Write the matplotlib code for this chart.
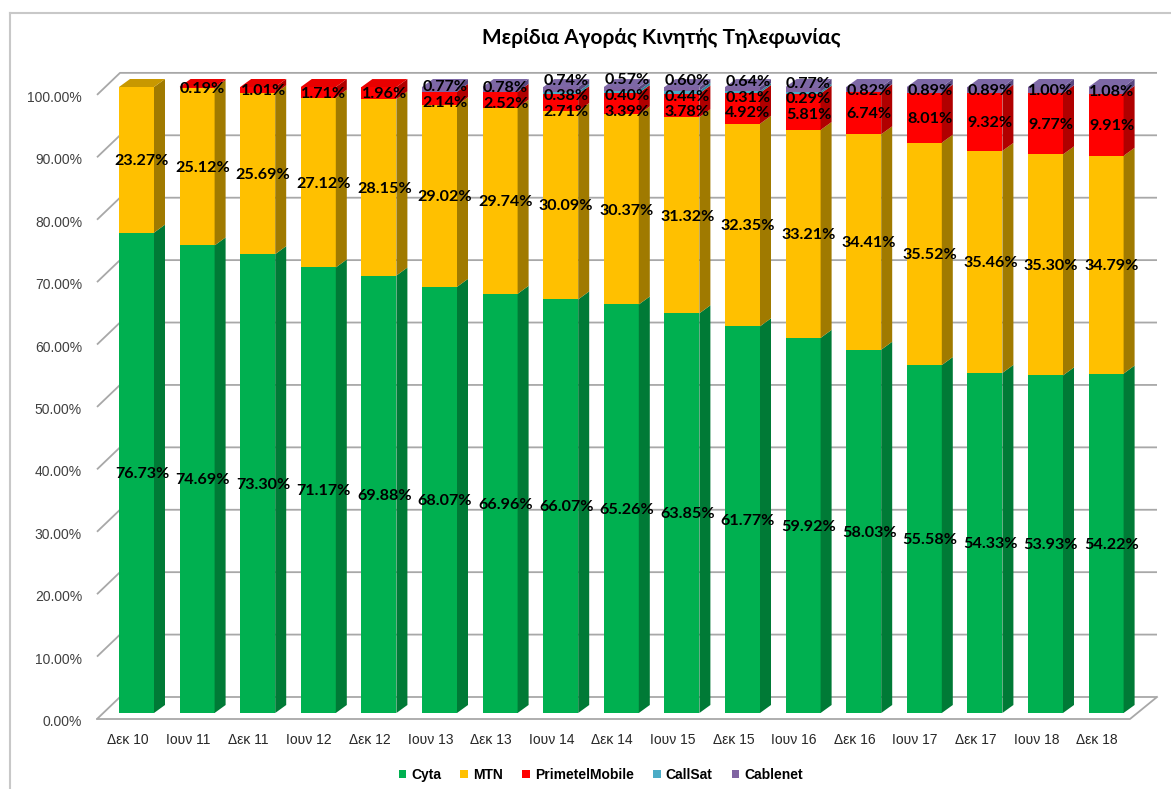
import matplotlib
matplotlib.use('Agg')
import matplotlib.pyplot as plt
from matplotlib.patches import Polygon, Rectangle
from matplotlib.lines import Line2D
import numpy as np

# ---------------- data ----------------
categories = ['Δεκ 10', 'Ιουν 11', 'Δεκ 11', 'Ιουν 12', 'Δεκ 12', 'Ιουν 13', 'Δεκ 13',
              'Ιουν 14', 'Δεκ 14', 'Ιουν 15', 'Δεκ 15', 'Ιουν 16', 'Δεκ 16', 'Ιουν 17',
              'Δεκ 17', 'Ιουν 18', 'Δεκ 18']
cyta = [76.73, 74.69, 73.30, 71.17, 69.88, 68.07, 66.96, 66.07, 65.26, 63.85, 61.77,
        59.92, 58.03, 55.58, 54.33, 53.93, 54.22]
mtn = [23.27, 25.12, 25.69, 27.12, 28.15, 29.02, 29.74, 30.09, 30.37, 31.32, 32.35,
       33.21, 34.41, 35.52, 35.46, 35.30, 34.79]
primetel = [0.00, 0.19, 1.01, 1.71, 1.96, 2.14, 2.52, 2.71, 3.39, 3.78, 4.92,
            5.81, 6.74, 8.01, 9.32, 9.77, 9.91]
callsat = [0.00, 0.00, 0.00, 0.00, 0.00, 0.00, 0.00, 0.38, 0.40, 0.44, 0.31,
           0.29, 0.00, 0.00, 0.00, 0.00, 0.00]
cablenet = [0.00, 0.00, 0.00, 0.00, 0.00, 0.77, 0.78, 0.74, 0.57, 0.60, 0.64,
            0.77, 0.82, 0.89, 0.89, 1.00, 1.08]
series_names = ['Cyta', 'MTN', 'PrimetelMobile', 'CallSat', 'Cablenet']
y_ticks = [0, 10, 20, 30, 40, 50, 60, 70, 80, 90, 100]
title = 'Μερίδια Αγοράς Κινητής Τηλεφωνίας'

# ---------------- styles ----------------
front_colors = ['#00B050', '#FFC000', '#FF0000', '#4BACC6', '#8064A2']
side_colors = ['#007A36', '#A07A00', '#B00000', '#31859C', '#5A4780']
top_colors = ['#00A04A', '#C89800', '#E80000', '#42A0B8', '#7D68A6']

W, H = 1171, 789
fig = plt.figure(figsize=(W / 100, H / 100), dpi=100)
ax = fig.add_axes([0, 0, 1, 1])

# pixel <-> data mapping for a flat, pseudo-3D drawing
X0, XS = 136.5, 60.6      # pixel of category 0, pixels per category
Y0, YS = 713.0, 6.26      # pixel of 0 %, pixels per percent
ax.set_xlim((0 - X0) / XS, (W - X0) / XS)
ax.set_ylim((Y0 - H) / YS, Y0 / YS)
ax.axis('off')

def px(p):
    return (p - X0) / XS

def py(p):
    return (Y0 - p) / YS

grid_c = '#A8A8A8'
# gridlines on back wall with slanted left ticks
for v in y_ticks:
    back = py(697) + v * 0.997
    front = py(719) + v * 0.997
    ax.plot([px(97), px(120), px(1157)], [front, back, back], color=grid_c, lw=1.3,
            zorder=1, solid_capstyle='butt')
    ax.text(px(82), front - 0.5, f'{v:.2f}%', ha='right', va='center', fontsize=10,
            color='#404040', family='Liberation Sans')
# floor outline
f0 = py(719)
b0 = py(697)
ax.plot([px(97), px(1130), px(1157)], [f0, f0, b0], color=grid_c, lw=1.3, zorder=1)

# bars
series = [cyta, mtn, primetel, callsat, cablenet]
n = len(categories)
xs = np.arange(n)
bw = 35 / XS
dx = 11 / XS
dy = 8 / YS
bottoms = np.zeros(n)
for s_idx, vals in enumerate(series):
    vals = np.array(vals)
    ax.bar(xs, vals, width=bw, bottom=bottoms, color=front_colors[s_idx],
           edgecolor='none', zorder=3, label=series_names[s_idx])
    for i in range(n):
        if vals[i] <= 0:
            continue
        xr = xs[i] + bw / 2
        b = bottoms[i]
        t = b + vals[i]
        ax.add_patch(Polygon([(xr, b), (xr + dx, b + dy), (xr + dx, t + dy), (xr, t)],
                             closed=True, facecolor=side_colors[s_idx],
                             edgecolor='none', zorder=3))
    bottoms = bottoms + vals

# top faces of the top-most segment
top_series = [-1] * n
for s_idx, vals in enumerate(series):
    for i in range(n):
        if vals[i] > 0:
            top_series[i] = s_idx
for i in range(n):
    t = bottoms[i]
    xl = xs[i] - bw / 2
    xr = xs[i] + bw / 2
    ax.add_patch(Polygon([(xl, t), (xr, t), (xr + dx, t + dy), (xl + dx, t + dy)],
                         closed=True, facecolor=top_colors[top_series[i]],
                         edgecolor='none', zorder=3))

# data labels with simple overlap spreading
def spread(centers, gap):
    clusters = [[c] for c in centers]
    while True:
        pos = []
        for cl in clusters:
            m = np.mean(cl)
            k = len(cl)
            start = m - gap * (k - 1) / 2
            pos.append([start + gap * j for j in range(k)])
        merged = False
        for k in range(len(clusters) - 1):
            if pos[k + 1][0] - pos[k][-1] < gap - 1e-9:
                clusters[k] = clusters[k] + clusters[k + 1]
                del clusters[k + 1]
                merged = True
                break
        if not merged:
            return [p for group in pos for p in group]

gap = 2.5
for i in range(n):
    b = 0.0
    items = []
    for s_idx, vals in enumerate(series):
        v = vals[i]
        if v > 0:
            items.append((b + v / 2, v))
        b += v
    centers = [c for c, _ in items]
    ys = spread(centers, gap)
    for (c, v), y in zip(items, ys):
        ax.text(xs[i] + dx / 2, y - 0.2, f'{v:.2f}%', ha='center', va='center',
                fontsize=11.6, fontweight='bold', family='Lato', color='black', zorder=5)

# category labels
for i, cat in enumerate(categories):
    ax.text(xs[i] - 0.15, py(740), cat, ha='center', va='center', fontsize=10,
            color='#262626', family='Liberation Sans')

# title
fig.text(661 / W, 1 - 38 / H, title, ha='center', va='center', fontsize=15,
         fontweight='bold', family='Lato', color='black')

# legend
handles = [Rectangle((0, 0), 1, 1, facecolor=c, edgecolor='none') for c in front_colors]
fig.legend(handles, series_names, loc='center', bbox_to_anchor=(0.513, 1 - 775 / H),
           ncol=5, frameon=False,
           prop={'family': 'Liberation Sans', 'weight': 'bold', 'size': 10},
           handlelength=0.55, handleheight=0.55, handletextpad=0.35, columnspacing=1.4)

# outer frame (top and left edges visible)
fc = '#C8C8C8'
fig.add_artist(Line2D([10 / W, 1], [1 - 13 / H, 1 - 13 / H], transform=fig.transFigure,
                      color=fc, lw=1.5))
fig.add_artist(Line2D([10 / W, 10 / W], [1 - 13 / H, 0], transform=fig.transFigure,
                      color=fc, lw=1.5))

fig.savefig('out.png', dpi=100)
